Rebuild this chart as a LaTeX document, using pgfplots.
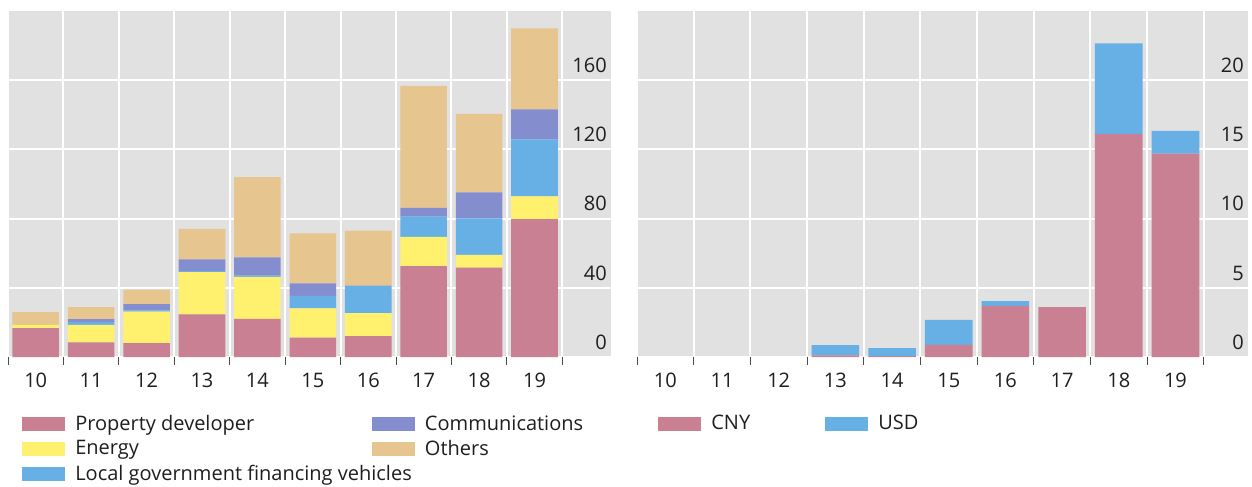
\documentclass[border=0pt]{standalone}
\usepackage{pgfplots}
\pgfplotsset{compat=1.18}
\usepackage{pgfplotstable}
\usepackage{fontspec}
\setmainfont{Open Sans}
\definecolor{bgGray}{RGB}{225,225,225}
\definecolor{cProp}{RGB}{200,128,146}
\definecolor{cEnergy}{RGB}{255,240,110}
\definecolor{cLGFV}{RGB}{102,176,230}
\definecolor{cComm}{RGB}{132,142,206}
\definecolor{cOther}{RGB}{231,197,142}
\definecolor{txt}{RGB}{30,30,30}

\pgfplotstableread{
x P E L C O
10 16.7 1.9 0 0 7.4
11 8.5 10.1 1.6 1.7 7.0
12 8.0 18.2 0.7 3.7 8.4
13 24.6 24.4 0.6 6.8 17.6
14 22.1 24.2 0.8 10.5 46.4
15 11.2 16.9 7.2 7.3 28.9
16 12.0 13.4 15.5 0.4 31.8
17 52.5 16.9 11.8 5.0 70.5
18 51.6 7.5 21.1 15.0 45.4
19 79.7 13.1 33.0 17.4 46.8
}\issuer

\pgfplotstableread{
x CNY USD
10 0 0
11 0 0
12 0 0
13 0.12 0.74
14 0.07 0.58
15 0.88 1.80
16 3.69 0.34
17 3.60 0
18 16.10 6.56
19 14.70 1.63
}\currency

\pgfplotsset{
  panel/.style={
    scale only axis,
    height=207.6pt,
    ymin=0,
    xmin=9.5,
    axis background/.style={fill=bgGray},
    axis line style={draw=none},
    ybar stacked,
    bar width=0.84,
    xtick={10,...,19},
    minor xtick={9.5,10.5,...,19.5},
    major tick length=0pt,
    minor tick length=4.5pt,
    tick align=outside,
    xtick pos=left,
    ytick pos=right,
    yticklabel pos=right,
    xmajorgrids=false,
    xminorgrids=true,
    ymajorgrids=true,
    grid style={white, line width=1.2pt},
    minor grid style={white, line width=1.2pt},
    minor tick style={txt!80, line width=0.5pt},
    major tick style={draw=none},
    /pgf/number format/assume math mode=true,
    tick label style={font=\fontsize{12}{14}\selectfont, text=txt},
    yticklabel style={anchor=south east, xshift=1pt, yshift=1pt},
    xticklabel style={yshift=-6pt},
    legend style={draw=none, fill=none, inner sep=0pt,
      font=\fontsize{12}{14}\selectfont, text=txt,
      nodes={inner xsep=2pt, inner ysep=2.1pt},
      cells={anchor=west}, row sep=0pt,
      /tikz/every odd column/.append style={column sep=4pt}},
    legend image code/.code={\path[#1] (0pt,-4.2pt) rectangle (25.8pt,4.2pt);},
  }
}

\begin{document}
\begin{tikzpicture}
\useasboundingbox (0pt,0pt) rectangle (751.2pt,291.6pt);

\begin{axis}[panel,
  at={(4.8pt,77.4pt)}, anchor=south west,
  width=361.8pt, xmax=20.38, ymax=200,
  ytick={0,40,80,120,160},
  legend columns=2,
  legend style={at={(axis description cs:0.0232,-0.158)}, anchor=north west,
    /tikz/every even column/.append style={column sep=4pt}},
]
\addplot[fill=cProp, draw=none, forget plot] table[x=x, y=P]{\issuer};
\addplot[fill=cEnergy, draw=none, forget plot] table[x=x, y=E]{\issuer};
\addplot[fill=cLGFV, draw=none, forget plot] table[x=x, y=L]{\issuer};
\addplot[fill=cComm, draw=none, forget plot] table[x=x, y=C]{\issuer};
\addplot[fill=cOther, draw=none, forget plot] table[x=x, y=O]{\issuer};
\addlegendimage{fill=cProp, draw=none}
\addlegendentry{Property developer}
\addlegendimage{fill=cComm, draw=none}
\addlegendentry{Communications}
\addlegendimage{fill=cEnergy, draw=none}
\addlegendentry{Energy}
\addlegendimage{fill=cOther, draw=none}
\addlegendentry{Others}
\addlegendimage{fill=cLGFV, draw=none}
\addlegendentry{\makebox[172pt][l]{Local government financing vehicles}}
\end{axis}

\begin{axis}[panel,
  at={(382.2pt,77.4pt)}, anchor=south west,
  width=366.6pt, xmax=20.28, ymax=25,
  ytick={0,5,10,15,20},
  legend columns=2,
  legend style={at={(axis description cs:0.0344,-0.158)}, anchor=north west,
    /tikz/every even column/.append style={column sep=43pt}},
]
\addplot[fill=cProp, draw=none] table[x=x, y=CNY]{\currency};
\addlegendentry{CNY}
\addplot[fill=cLGFV, draw=none] table[x=x, y=USD]{\currency};
\addlegendentry{USD}
\end{axis}
\end{tikzpicture}
\end{document}
